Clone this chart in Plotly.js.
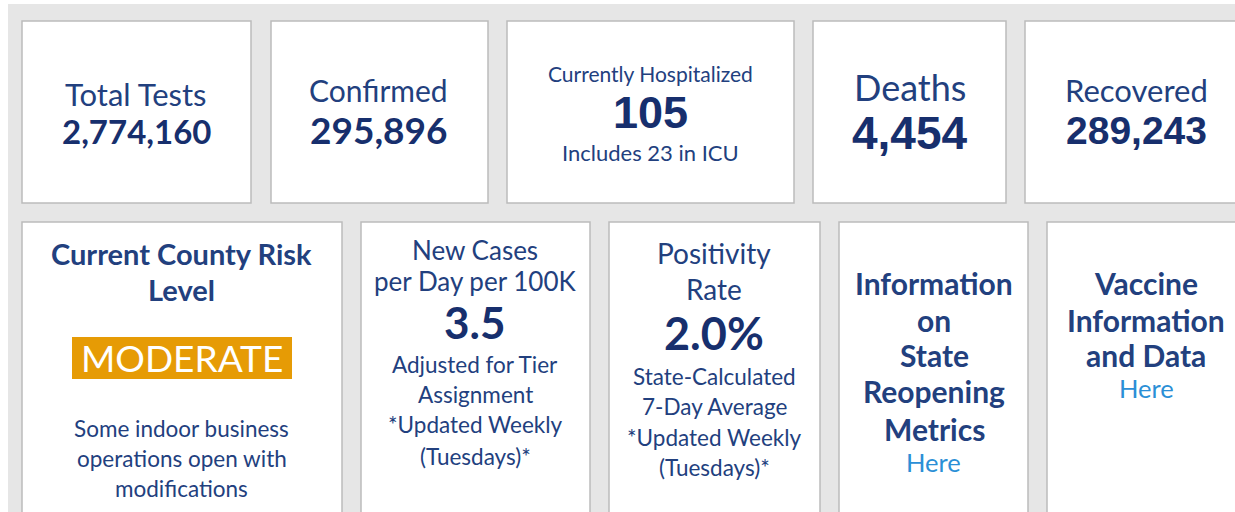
<!DOCTYPE html>
<html>
<head>
<meta charset="utf-8">
<script src="https://cdn.plot.ly/plotly-3.0.1.min.js"></script>
<style>html,body{margin:0;padding:0;background:#fff;}#chart{width:1235px;height:512px;}</style>
</head>
<body>
<div id="chart"></div>
<script>
// ---- data ----
const topTitles = ['Total Tests', 'Confirmed', 'Currently Hospitalized', 'Deaths', 'Recovered'];
const topValues = [2774160, 295896, 105, 4454, 289243];
const topNotes = ['', '', 'Includes 23 in ICU', '', ''];
const riskTitle = ['Current County Risk', 'Level'];
const riskLevel = 'MODERATE';
const riskNote = ['Some indoor business', 'operations open with', 'modifications'];
const newCasesTitle = ['New Cases', 'per Day per 100K'];
const newCasesPer100K = 3.5;
const newCasesNote = ['Adjusted for Tier', 'Assignment', '*Updated Weekly', '(Tuesdays)*'];
const positivityTitle = ['Positivity', 'Rate'];
const positivityRate = 2.0;
const positivityNote = ['State-Calculated', '7-Day Average', '*Updated Weekly', '(Tuesdays)*'];
const reopeningTitle = ['Information', 'on', 'State', 'Reopening', 'Metrics'];
const vaccineTitle = ['Vaccine', 'Information', 'and Data'];
const linkText = 'Here';

// ---- layout constants ----
const W = 1235, H = 512;
const px = x => x / W;
const py = y => 1 - y / H;
const NAVY = '#22407e', NAVY_D = '#172f6d', LINK = '#2b8fd6', ORANGE = '#e69b05';
const FONT = 'Lato, "Open Sans", sans-serif';
const NUMFONT = '"Liberation Sans", Arial, sans-serif';

const topCards = [[22, 251], [271, 488], [507, 794], [813, 1006], [1025, 1245]];
const topY = [21, 203];
const botCards = [[22, 342], [361, 590], [609, 820], [839, 1028], [1047, 1245]];
const botY = [222, 530];

const shapes = [];
shapes.push({type: 'rect', xref: 'paper', yref: 'paper', x0: px(8), x1: px(1240), y0: py(4), y1: py(520),
  fillcolor: '#e6e6e6', line: {width: 0}, layer: 'below'});
function card(x0, x1, y0, y1) {
  shapes.push({type: 'rect', xref: 'paper', yref: 'paper', x0: px(x0), x1: px(x1), y0: py(y0), y1: py(y1),
    fillcolor: '#ffffff', line: {color: '#bcbcbc', width: 1.5}, layer: 'below'});
}
topCards.forEach(c => card(c[0], c[1], topY[0], topY[1]));
botCards.forEach(c => card(c[0], c[1], botY[0], botY[1]));
shapes.push({type: 'rect', xref: 'paper', yref: 'paper', x0: px(72), x1: px(292), y0: py(337), y1: py(379),
  fillcolor: ORANGE, line: {width: 0}});

const ann = [];
function t(x, y, s, size, opts) {
  opts = opts || {};
  ann.push({xref: 'paper', yref: 'paper', x: px(x), y: py(y), xanchor: 'center', yanchor: 'middle',
    showarrow: false, text: opts.bold ? '<b>' + s + '</b>' : s,
    font: {family: opts.family || FONT, size: size, color: opts.color || NAVY}});
}
const fmt = v => v.toLocaleString('en-US');

// top row
const topCx = [136, 378, 650, 910, 1136];
t(topCx[0], 94, topTitles[0], 31);
t(topCx[0], 131, fmt(topValues[0]), 33, {bold: true, color: NAVY_D});
t(topCx[1], 90, topTitles[1], 30);
t(topCx[1], 129, fmt(topValues[1]), 37, {bold: true, color: NAVY_D});
t(topCx[2], 73, topTitles[2], 21);
t(topCx[2], 112, fmt(topValues[2]), 45, {bold: true, color: NAVY_D, family: NUMFONT});
t(topCx[2], 152, topNotes[2], 22);
t(topCx[3], 87, topTitles[3], 36);
t(topCx[3], 133, fmt(topValues[3]), 46, {bold: true, color: NAVY_D, family: NUMFONT});
t(topCx[4], 90, topTitles[4], 31);
t(topCx[4], 130, fmt(topValues[4]), 39, {bold: true, color: NAVY_D, family: NUMFONT});

// bottom row
t(182, 253, riskTitle[0], 29, {bold: true});
t(182, 289, riskTitle[1], 29, {bold: true});
t(182, 357, riskLevel, 37, {color: '#ffffff'});
[428, 458, 488].forEach((y, i) => t(182, y, riskNote[i], 22.5));

t(475, 250, newCasesTitle[0], 26);
t(475, 281, newCasesTitle[1], 26);
t(475, 322, newCasesPer100K.toFixed(1), 44, {bold: true, color: NAVY_D});
[364, 394, 424, 456].forEach((y, i) => t(475, y, newCasesNote[i], 22.5));

t(714, 253, positivityTitle[0], 28);
t(714, 289, positivityTitle[1], 28);
t(714, 333, positivityRate.toFixed(1) + '%', 45, {bold: true, color: NAVY_D});
[376, 406, 437, 467].forEach((y, i) => t(714, y, positivityNote[i], 22.5));

[283, 320, 355, 391, 429].forEach((y, i) => t(934, y, reopeningTitle[i], 30, {bold: true}));
t(933, 462, linkText, 25.5, {color: LINK});

[283, 320, 355].forEach((y, i) => t(1146, y, vaccineTitle[i], 30, {bold: true}));
t(1146, 388, linkText, 25.5, {color: LINK});

Plotly.newPlot('chart', [], {
  width: W, height: H, margin: {l: 0, r: 0, t: 0, b: 0},
  paper_bgcolor: '#ffffff', plot_bgcolor: '#ffffff',
  xaxis: {visible: false}, yaxis: {visible: false},
  shapes: shapes, annotations: ann, showlegend: false
}, {displayModeBar: false, staticPlot: true});
</script>
</body>
</html>
